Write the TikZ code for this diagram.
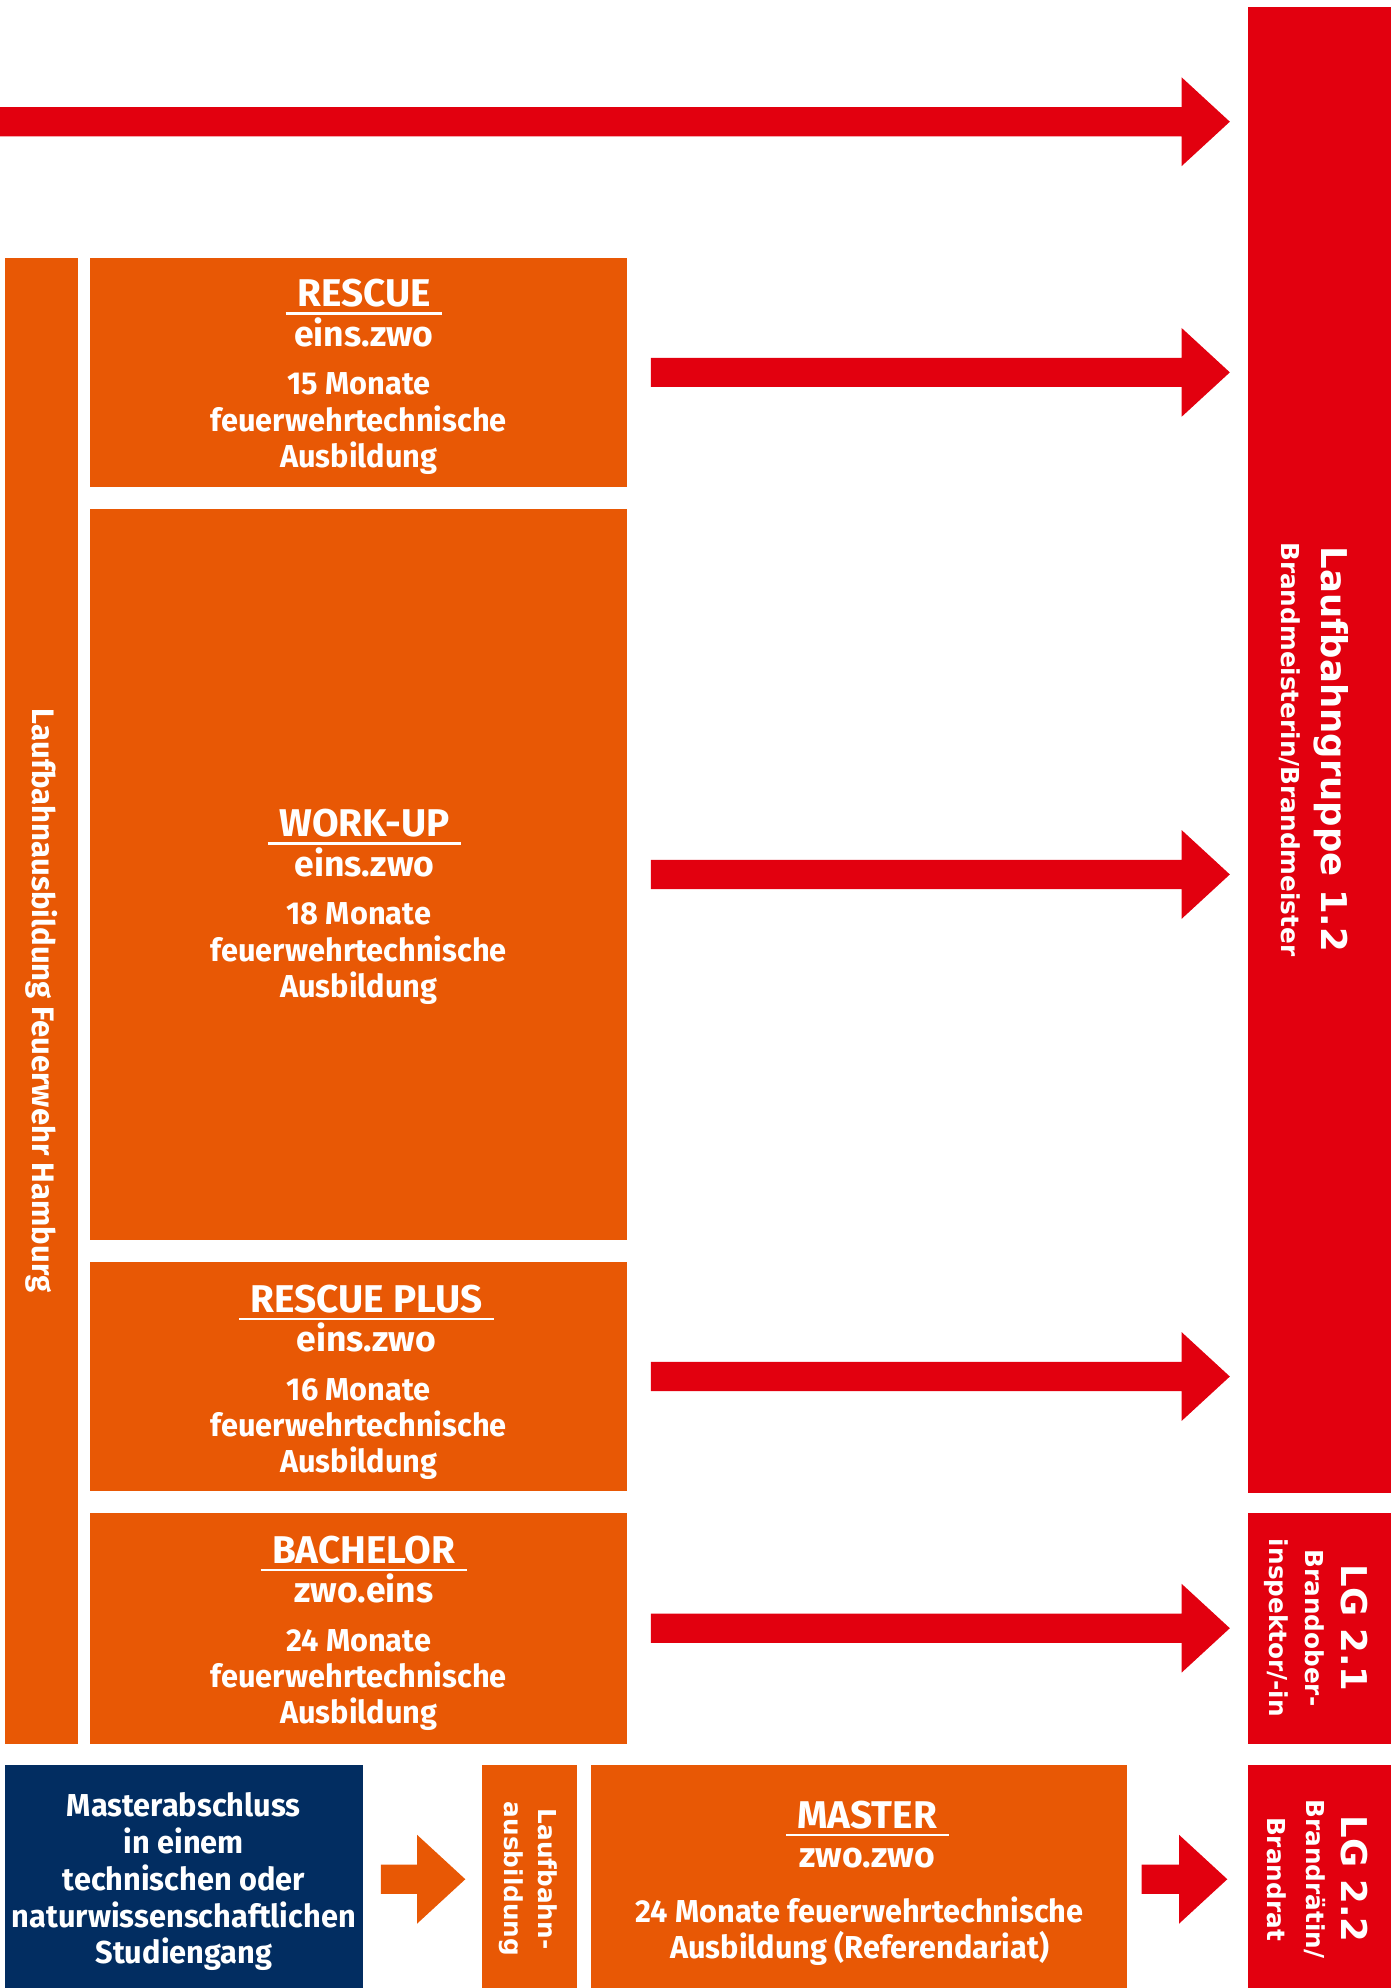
\documentclass[tikz,border=0pt]{standalone}
\usepackage{fontspec}
\setmainfont{Fira Sans}
\newfontfamily\condfont{Fira Sans}[FakeStretch=0.97]
\newfontfamily\headfont{Fira Sans}
\newfontfamily\widefont{DejaVu Sans}
\usetikzlibrary{calc}

\definecolor{fwOrange}{RGB}{232,88,5}
\definecolor{fwRed}{RGB}{226,0,15}
\definecolor{fwNavy}{RGB}{2,45,97}

% block arrow: colour, tail, tip
\newcommand{\fatarrow}[3]{%
	\fill[#1] ($(#2)+(0,-11.5)$) -- ($(#3)+(-38,-11.5)$) -- ($(#3)+(-38,-35)$) -- (#3)
		-- ($(#3)+(-38,35)$) -- ($(#3)+(-38,11.5)$) -- ($(#2)+(0,11.5)$) -- cycle;}

\begin{document}
\begin{tikzpicture}[x=1pt, y=-1pt]
	\tikzstyle{box}=[inner sep=0pt, anchor=north west]
	\tikzstyle{obox}=[box, fill=fwOrange]
	\tikzstyle{rbox}=[box, fill=fwRed]
	\tikzstyle{nbox}=[box, fill=fwNavy]
	\tikzstyle{ttl}=[text=white, font=\headfont\bfseries\fontsize{30.5}{32}\selectfont, anchor=base, inner xsep=9pt, inner ysep=5pt, text depth=0pt]
	\tikzstyle{sub}=[text=white, font=\headfont\bfseries\fontsize{28}{30}\selectfont, anchor=base, inner sep=0pt]
	\tikzstyle{body}=[text=white, font=\condfont\bfseries\fontsize{25}{28}\selectfont, anchor=base, inner sep=0pt]
	\tikzstyle{uline}=[white, line width=2pt]
	\tikzstyle{vbig}=[text=white, font=\widefont\bfseries\fontsize{28}{30}\selectfont, rotate=-90, inner sep=0pt]
	\tikzstyle{vsmall}=[text=white, font=\widefont\bfseries\fontsize{19.5}{22}\selectfont, rotate=-90, inner sep=0pt]
	\tikzstyle{vside}=[text=white, font=\bfseries\fontsize{24.5}{26}\selectfont, rotate=-90, inner sep=0pt]
	\useasboundingbox (0,0) rectangle (1101,1568);

	% boxes
	\node[obox, minimum width=57pt, minimum height=1172pt] (lauf) at (4,203) {};
	\node[obox, minimum width=423pt, minimum height=181pt] (rescue) at (71,203) {};
	\node[obox, minimum width=423pt, minimum height=577pt] (workup) at (71,401) {};
	\node[obox, minimum width=423pt, minimum height=181pt] (plus) at (71,995) {};
	\node[obox, minimum width=423pt, minimum height=182pt] (bachelor) at (71,1193) {};
	\node[rbox, minimum width=113pt, minimum height=1172pt] (lg12) at (984,5) {};
	\node[rbox, minimum width=113pt, minimum height=182pt] (lg21) at (984,1193) {};
	\node[rbox, minimum width=113pt, minimum height=176pt] (lg22) at (984,1392) {};
	\node[nbox, minimum width=282pt, minimum height=176pt] (studium) at (4,1392) {};
	\node[obox, minimum width=75pt, minimum height=176pt] (lba) at (380,1392) {};
	\node[obox, minimum width=423pt, minimum height=176pt] (master) at (466,1392) {};

	% vertical labels
	\node[vside] (laufT) at (lauf.center) {Laufbahnausbildung Feuerwehr Hamburg};
	\node[vbig] (lg12T) at (1050,591) {Laufbahngruppe 1.2};
	\node[vsmall] (lg12S) at (1017,591) {Brandmeisterin/Brandmeister};
	\node[vbig] (lg21T) at (1068,1284) {LG 2.1};
	\node[vsmall] (lg21S) at (1037,1284) {Brandober-};
	\node[vsmall] (lg21R) at (1007,1284) {inspektor/-in};
	\node[vbig] (lg22T) at (1068,1482) {LG 2.2};
	\node[vsmall] (lg22S) at (1037,1482) {Brandrätin/};
	\node[vsmall] (lg22R) at (1007,1482) {Brandrat};
	\node[vsmall] (lbaT) at (432,1482) {Laufbahn-};
	\node[vsmall] (lbaS) at (403,1482) {ausbildung};

	% RESCUE
	\node[ttl] (rescueT) at (287,242) {RESCUE};
	\draw[uline] (rescueT.south west) -- (rescueT.south east);
	\node[sub] (rescueS) at (287,273) {eins.zwo};
	\node[body] (rescueM) at (283,311.5) {15 Monate};
	\node[body] (rescueF) at (283,340) {feuerwehrtechnische};
	\node[body] (rescueA) at (283,368.5) {Ausbildung};

	% WORK-UP
	\node[ttl] (workupT) at (287.5,660) {WORK-UP};
	\draw[uline] (workupT.south west) -- (workupT.south east);
	\node[sub] (workupS) at (287.5,691) {eins.zwo};
	\node[body] (workupM) at (283,729.5) {18 Monate};
	\node[body] (workupF) at (283,758) {feuerwehrtechnische};
	\node[body] (workupA) at (283,786.5) {Ausbildung};

	% RESCUE PLUS
	\node[ttl] (plusT) at (289,1035) {RESCUE PLUS};
	\draw[uline] (plusT.south west) -- (plusT.south east);
	\node[sub] (plusS) at (289,1066) {eins.zwo};
	\node[body] (plusM) at (283,1104.5) {16 Monate};
	\node[body] (plusF) at (283,1133) {feuerwehrtechnische};
	\node[body] (plusA) at (283,1161.5) {Ausbildung};

	% BACHELOR
	\node[ttl] (bachelorT) at (287,1233) {BACHELOR};
	\draw[uline] (bachelorT.south west) -- (bachelorT.south east);
	\node[sub] (bachelorS) at (287,1264) {zwo.eins};
	\node[body] (bachelorM) at (283,1302.5) {24 Monate};
	\node[body] (bachelorF) at (283,1331) {feuerwehrtechnische};
	\node[body] (bachelorA) at (283,1359.5) {Ausbildung};

	% MASTER
	\node[ttl] (masterT) at (684,1442) {MASTER};
	\draw[uline] (masterT.south west) -- (masterT.south east);
	\node[sub] (masterS) at (684,1473) {zwo.zwo};
	\node[body] (masterM) at (678,1516) {24 Monate feuerwehrtechnische};
	\node[body] (masterA) at (678,1544.5) {Ausbildung (Referendariat)};

	% Studium
	\node[body] (studium1) at (145,1433) {Masterabschluss};
	\node[body] (studium2) at (145,1462) {in einem};
	\node[body] (studium3) at (145,1491) {technischen oder};
	\node[body] (studium4) at (145,1520) {naturwissenschaftlichen};
	\node[body] (studium5) at (145,1549) {Studiengang};

	% arrows
	\coordinate (topTail) at (0,96);
	\coordinate (topTip) at ($(lg12.west |- topTail)+(-14,0)$);
	\fatarrow{fwRed}{topTail}{topTip}
	\coordinate (a1) at ($(rescue.east)+(19,0)$);
	\coordinate (b1) at ($(lg12.west |- a1)+(-14,0)$);
	\fatarrow{fwRed}{a1}{b1}
	\coordinate (a2) at ($(workup.east)+(19,0)$);
	\coordinate (b2) at ($(lg12.west |- a2)+(-14,0)$);
	\fatarrow{fwRed}{a2}{b2}
	\coordinate (a3) at ($(plus.east)+(19,0)$);
	\coordinate (b3) at ($(lg12.west |- a3)+(-14,0)$);
	\fatarrow{fwRed}{a3}{b3}
	\coordinate (a4) at ($(bachelor.east)+(19,0)$);
	\coordinate (b4) at ($(lg21.west |- a4)+(-14,0)$);
	\fatarrow{fwRed}{a4}{b4}
	\coordinate (a5) at ($(studium.east)+(14,2)$);
	\coordinate (b5) at ($(lba.west |- a5)+(-13,0)$);
	\fatarrow{fwOrange}{a5}{b5}
	\coordinate (a6) at ($(master.east)+(11,2)$);
	\coordinate (b6) at ($(lg22.west |- a6)+(-16,0)$);
	\fatarrow{fwRed}{a6}{b6}
\end{tikzpicture}
\end{document}
